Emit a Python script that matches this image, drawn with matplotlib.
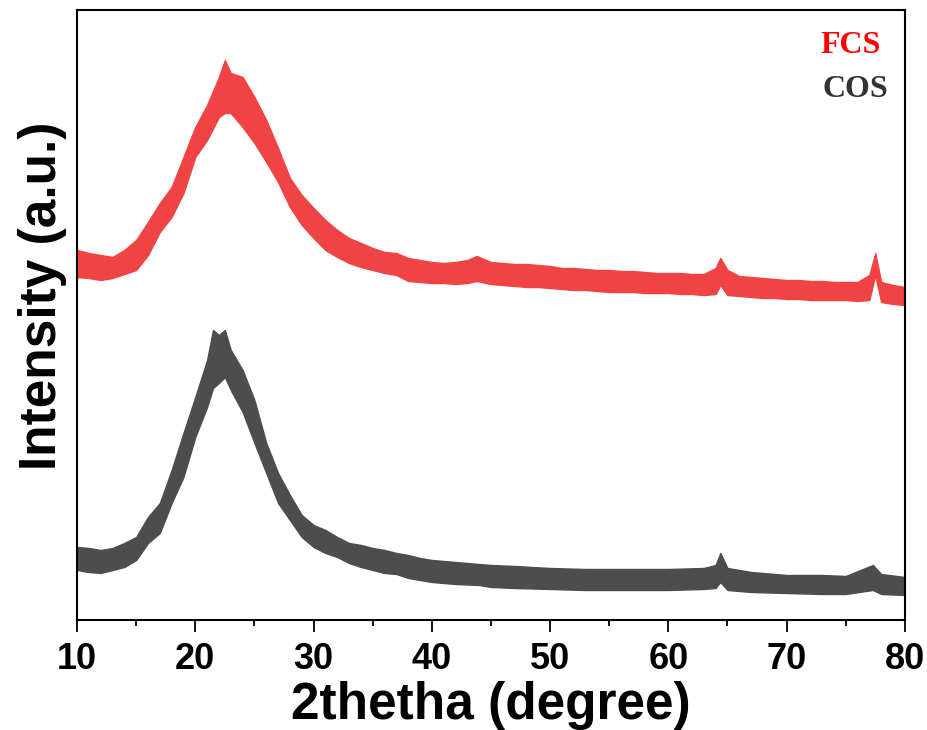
import numpy as np
import matplotlib
matplotlib.use("Agg")
import matplotlib.pyplot as plt

# XRD patterns, read off the reference as upper / lower edge of the noisy trace
# (intensity in arbitrary units, 2theta in degrees)
fcs_2theta = [10, 11, 12, 13, 14, 15, 16, 17, 18, 19, 20, 21, 22, 22.5, 23, 24, 25, 26,
              27, 28, 29, 30, 31, 32, 33, 34, 35, 36, 37, 38, 39, 40, 41, 42, 43, 43.8,
              45, 46, 47, 48, 49, 50, 51, 52, 53, 54, 55, 56, 57, 58, 59, 60, 61, 62, 63,
              64, 64.4, 65, 66, 67, 68, 69, 70, 71, 72, 73, 74, 75, 76, 77, 77.5, 78, 79, 80]
fcs_hi = [370, 367, 365, 363, 370, 380, 398, 417, 433, 463, 493, 515, 543, 560, 547, 543, 523, 500,
          472, 442, 425, 412, 400, 390, 382, 377, 372, 368, 367, 362, 360, 358, 357, 358, 360, 364,
          358, 357, 356, 356, 355, 354, 352, 352, 351, 350, 350, 349, 349, 348, 347, 347, 347, 346, 346,
          352, 362, 350, 344, 343, 342, 341, 340, 340, 339, 339, 338, 338, 338, 345, 367, 338, 335, 333]
fcs_lo = [343, 342, 340, 342, 346, 350, 365, 388, 403, 427, 463, 480, 503, 507, 507, 493, 477, 458,
          438, 413, 395, 382, 370, 363, 357, 353, 350, 347, 345, 339, 338, 337, 337, 336, 337, 339,
          336, 335, 334, 333, 333, 332, 331, 330, 330, 329, 328, 328, 328, 327, 327, 327, 326, 326, 325,
          326, 335, 325, 324, 323, 322, 322, 321, 321, 320, 320, 320, 320, 319, 320, 345, 318, 316, 315]

cos_2theta = [10, 11, 12, 13, 14, 15, 16, 17, 18, 19, 20, 21, 21.5, 22, 22.5, 23, 24, 25, 26,
              27, 28, 29, 30, 31, 32, 33, 34, 35, 36, 37, 38, 39, 40, 42, 44, 45, 47, 50,
              53, 55, 58, 60, 63, 64, 64.4, 65, 67, 70, 73, 75, 77.3, 78, 80]
cos_hi = [73, 72, 70, 72, 77, 83, 103, 117, 150, 187, 223, 260, 290, 285, 290, 270, 250, 220, 177,
          147, 125, 105, 95, 90, 83, 77, 75, 72, 70, 67, 65, 62, 60, 58, 56, 55, 54, 52,
          51, 51, 51, 51, 52, 55, 67, 52, 48, 45, 45, 44, 55, 46, 43]
cos_lo = [50, 48, 47, 50, 53, 60, 77, 87, 117, 143, 183, 213, 232, 237, 243, 230, 208, 177, 147,
          117, 100, 83, 73, 67, 63, 57, 53, 50, 47, 46, 42, 40, 38, 36, 35, 33, 32, 31,
          30, 30, 30, 30, 31, 32, 38, 30, 28, 27, 26, 26, 30, 26, 25]

xticks = [10, 20, 30, 40, 50, 60, 70, 80]

plt.rcParams["font.family"] = ["Liberation Sans", "DejaVu Sans"]
plt.rcParams["font.weight"] = "bold"

fig = plt.figure(figsize=(9.28, 7.30), dpi=100)
ax = fig.add_axes([0.083, 0.1507, 0.892, 0.8356])

red = "#f04343"
grey = "#4d4d4d"
ax.fill_between(fcs_2theta, fcs_lo, fcs_hi, color=red, linewidth=1.0, edgecolor=red)
ax.fill_between(cos_2theta, cos_lo, cos_hi, color=grey, linewidth=1.0, edgecolor=grey)

ax.set_xlim(10, 80)
ax.set_ylim(0, 610)
ax.set_xticks(xticks)
ax.set_xticks(np.arange(15, 80, 10), minor=True)
ax.set_yticks([])
ax.tick_params(axis="x", which="major", direction="out", length=8.5, width=1.3,
               labelsize=26, pad=7)
ax.tick_params(axis="x", which="minor", direction="out", length=4.3, width=1.3)
for lab in ax.get_xticklabels():
    lab.set_fontweight("bold")
for sp in ax.spines.values():
    sp.set_linewidth(1.5)

ax.set_xlabel("2thetha (degree)", fontsize=37, fontweight="bold", labelpad=3)
ax.set_ylabel("Intensity (a.u.)", fontsize=37, fontweight="bold")
ax.yaxis.set_label_coords(-0.012, 0.531)

ax.text(0.935, 0.9295, "FCS", transform=ax.transAxes, ha="center", va="baseline",
        color="#ff0000", fontsize=23, fontweight="bold", family=["Liberation Serif"])
ax.text(0.94, 0.857, "COS", transform=ax.transAxes, ha="center", va="baseline",
        color="#333333", fontsize=23, fontweight="bold", family=["Liberation Serif"])

fig.savefig("out.png", dpi=100)
